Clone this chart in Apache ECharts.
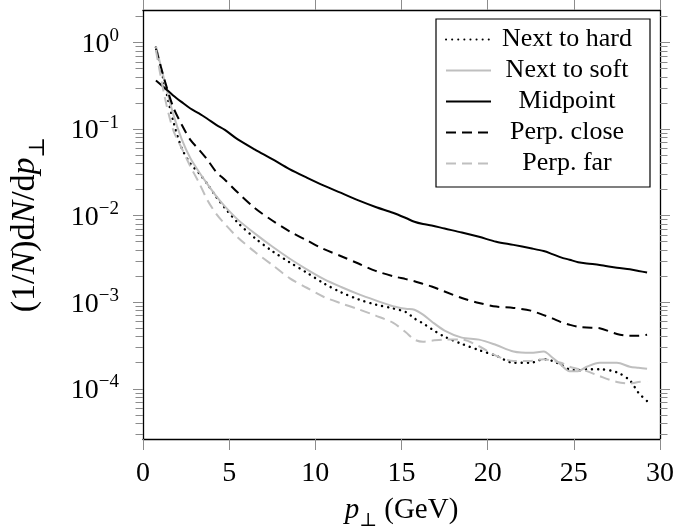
<!DOCTYPE html>
<html>
<head>
<meta charset="utf-8">
<script src="https://cdn.jsdelivr.net/npm/echarts@6/dist/echarts.min.js"></script>
<style>
  html, body { margin: 0; padding: 0; background: #fff; }
  #chart { width: 676px; height: 529px; }
</style>
</head>
<body>
<div id="chart"></div>
<script>
// Transverse momentum bins (GeV)
const pt = [0.75, 1.25, 1.75, 2.25, 2.75, 3.25, 3.75, 4.25, 4.75, 5.5, 6.5, 7.5, 8.5, 9.5,
  10.5, 11.5, 12.5, 13.5, 14.5, 15.25, 15.75, 16.25, 16.75, 17.5, 18.5, 19.5, 20.5, 21.5,
  22.5, 23.25, 23.75, 24.25, 24.75, 25.25, 25.75, 26.5, 27.5, 28.25, 28.75, 29.25];

// (1/N) dN/dp_T for each gluon-emission configuration
const nextToHard = [0.88, 0.33, 0.125, 0.060, 0.040, 0.031, 0.023, 0.0165, 0.0123, 0.0083,
  0.0055, 0.0039, 0.0029, 0.0022, 0.00165, 0.00130, 0.00108, 0.00094, 0.00085, 0.00077,
  0.00065, 0.00057, 0.00049, 0.00040, 0.00033, 0.00028, 0.00024, 0.00020, 0.00020, 0.00022,
  0.00021, 0.00019, 0.000167, 0.000163, 0.000168, 0.000168, 0.000155, 0.000125, 0.000090, 0.000072];

const nextToSoft = [0.90, 0.36, 0.15, 0.076, 0.046, 0.032, 0.023, 0.0168, 0.0128, 0.0090,
  0.0062, 0.0044, 0.0032, 0.0024, 0.00185, 0.00150, 0.00124, 0.00105, 0.00090, 0.00084,
  0.00082, 0.00072, 0.00060, 0.00047, 0.00039, 0.00037, 0.00032, 0.00027, 0.00026, 0.00027,
  0.00023, 0.00019, 0.00016, 0.00016, 0.00018, 0.00020, 0.00020, 0.00018, 0.000175, 0.00017];

const midpoint = [0.365, 0.30, 0.245, 0.205, 0.173, 0.152, 0.131, 0.112, 0.098, 0.076,
  0.058, 0.045, 0.0345, 0.0275, 0.0222, 0.0183, 0.0150, 0.0126, 0.0108, 0.0094,
  0.0085, 0.0080, 0.0077, 0.0071, 0.0064, 0.0057, 0.0050, 0.0046, 0.0042, 0.0039,
  0.0036, 0.0033, 0.0031, 0.0029, 0.0028, 0.0027, 0.0025, 0.0024, 0.0023, 0.0022];

const perpClose = [0.85, 0.37, 0.18, 0.112, 0.075, 0.058, 0.044, 0.032, 0.026, 0.0185,
  0.0122, 0.0088, 0.0066, 0.0052, 0.0041, 0.0034, 0.0028, 0.0023, 0.0020, 0.00185,
  0.00175, 0.00163, 0.00152, 0.00133, 0.00112, 0.00098, 0.00089, 0.00086, 0.00080, 0.00071,
  0.00065, 0.00059, 0.00055, 0.00052, 0.00051, 0.00050, 0.00043, 0.00041, 0.00041, 0.00042];

const perpFar = [0.82, 0.24, 0.098, 0.060, 0.037, 0.024, 0.0150, 0.0105, 0.0080, 0.0056,
  0.0038, 0.0027, 0.0019, 0.00147, 0.00115, 0.00097, 0.00083, 0.00070, 0.00058, 0.00045,
  0.00037, 0.00035, 0.00036, 0.00037, 0.00037, 0.00031, 0.00024, 0.00021, 0.00021, 0.00022,
  0.00021, 0.00020, 0.00018, 0.00017, 0.00016, 0.00014, 0.00012, 0.000115, 0.000120, 0.000122];

// Axis ticks
const xTicks = [0, 5, 10, 15, 20, 25, 30];
const yMajor = [1e-4, 1e-3, 1e-2, 1e-1, 1];
const yMinor = [];
[-5, -4, -3, -2, -1, 0].forEach(function (e) {
  for (let m = 2; m <= 9; m++) yMinor.push(+(m * Math.pow(10, e)).toPrecision(3));
});

const yMin = Math.pow(10, -4.58);
const yMax = Math.pow(10, 0.376);

const FONT = '"Liberation Serif", "DejaVu Serif", serif';
const GRAY = '#bfbfbf';
const TICK = '#8c8c8c';

function supLabel(v) {
  const e = Math.round(Math.log10(v));
  return '{b|10}{s|' + (e < 0 ? '\u2212' + (-e) : String(e)) + '}';
}

function yAxis(position, ticks, len, withLabels, withLine) {
  return {
    type: 'log', logBase: 10, min: yMin, max: yMax, position: position, offset: 0,
    axisLine: { show: withLine, lineStyle: { color: '#000', width: 1.3 } },
    axisTick: { show: true, inside: false, length: len, customValues: ticks,
      lineStyle: { color: TICK, width: 1 } },
    axisLabel: withLabels ? {
      show: true, customValues: yMajor, margin: 24, formatter: supLabel,
      rich: {
        b: { fontSize: 28, fontFamily: FONT, color: '#000', verticalAlign: 'bottom', lineHeight: 32 },
        s: { fontSize: 19, fontFamily: FONT, color: '#000', verticalAlign: 'top', lineHeight: 32 }
      }
    } : { show: false },
    splitLine: { show: false },
    minorTick: { show: false }
  };
}

function xAxis(position, withLabels) {
  return {
    type: 'value', min: 0, max: 30, interval: 5, position: position,
    axisLine: { show: true, onZero: false, lineStyle: { color: '#000', width: 1.3 } },
    axisTick: { show: true, inside: false, length: 11, customValues: xTicks,
      lineStyle: { color: TICK, width: 1 } },
    axisLabel: withLabels ? {
      show: true, margin: 21, fontSize: 28, fontFamily: FONT, color: '#000'
    } : { show: false },
    splitLine: { show: false }
  };
}

function nameRich(size, lh) {
  return {
    i: { fontSize: size, fontFamily: FONT, fontStyle: 'italic', color: '#000', verticalAlign: 'top', lineHeight: lh },
    sub: { fontSize: Math.round(size * 0.65), fontFamily: FONT, color: '#000', verticalAlign: 'bottom', lineHeight: lh },
    r: { fontSize: size, fontFamily: FONT, color: '#000', verticalAlign: 'top', lineHeight: lh }
  };
}

const bottomAxis = xAxis('bottom', true);
bottomAxis.name = '{i|p}{sub|\u22A5}{r| (GeV)}';
bottomAxis.nameLocation = 'middle';
bottomAxis.nameGap = 57;
bottomAxis.nameTextStyle = { rich: nameRich(29, 35) };

const leftAxis = yAxis('left', yMajor, 10, true, true);
leftAxis.name = '{r|(1/}{i|N}{r|)d}{i|N}{r|/d}{i|p}{sub|\u22A5}';
leftAxis.nameLocation = 'middle';
leftAxis.nameGap = 94;
leftAxis.nameRotate = 90;
leftAxis.nameTextStyle = { rich: nameRich(34, 41) };

function pairs(arr) { return pt.map(function (x, i) { return [x, arr[i]]; }); }

function lineSeries(name, arr, color, width, type, cap) {
  return {
    name: name, type: 'line', xAxisIndex: 0, yAxisIndex: 0,
    data: pairs(arr), symbol: 'none', showSymbol: false,
    smooth: 0.3,
    lineStyle: { color: color, width: width, type: type, cap: cap || 'butt', join: 'round' },
    itemStyle: { color: color },
    emphasis: { disabled: true },
    animation: false
  };
}

const chart = echarts.init(document.getElementById('chart'), null, { renderer: 'canvas' });
chart.setOption({
  backgroundColor: '#fff',
  animation: false,
  grid: { left: 143, right: 16, top: 10, bottom: 90, containLabel: false, outerBoundsMode: 'none' },
  xAxis: [bottomAxis, xAxis('top', false)],
  yAxis: [
    leftAxis,
    yAxis('left', yMinor, 7.5, false, false),
    yAxis('right', yMajor, 10, false, true),
    yAxis('right', yMinor, 7.5, false, false)
  ],
  legend: {
    orient: 'vertical', left: 436, top: 19,
    padding: [5, 12, 8, 9],
    itemWidth: 45, itemHeight: 14, itemGap: 0,
    backgroundColor: '#fff', borderColor: '#000', borderWidth: 1.2, borderRadius: 0,
    itemStyle: { opacity: 0, color: 'rgba(0,0,0,0)', borderWidth: 0 },
    formatter: function (name) { return '{t|' + name + '}'; },
    textStyle: {
      lineHeight: 31,
      rich: { t: { width: 142, align: 'center', fontSize: 26, fontFamily: FONT, color: '#000', lineHeight: 31 } }
    },
    selectedMode: false,
    data: ['Next to hard', 'Next to soft', 'Midpoint', 'Perp. close', 'Perp. far']
  },
  series: [
    lineSeries('Next to hard', nextToHard, '#000', 2.4, [0.1, 6], 'round'),
    lineSeries('Next to soft', nextToSoft, GRAY, 2, 'solid'),
    lineSeries('Midpoint', midpoint, '#000', 2, 'solid'),
    lineSeries('Perp. close', perpClose, '#000', 2, [10, 6]),
    lineSeries('Perp. far', perpFar, GRAY, 2, [10, 6])
  ]
});
</script>
</body>
</html>
